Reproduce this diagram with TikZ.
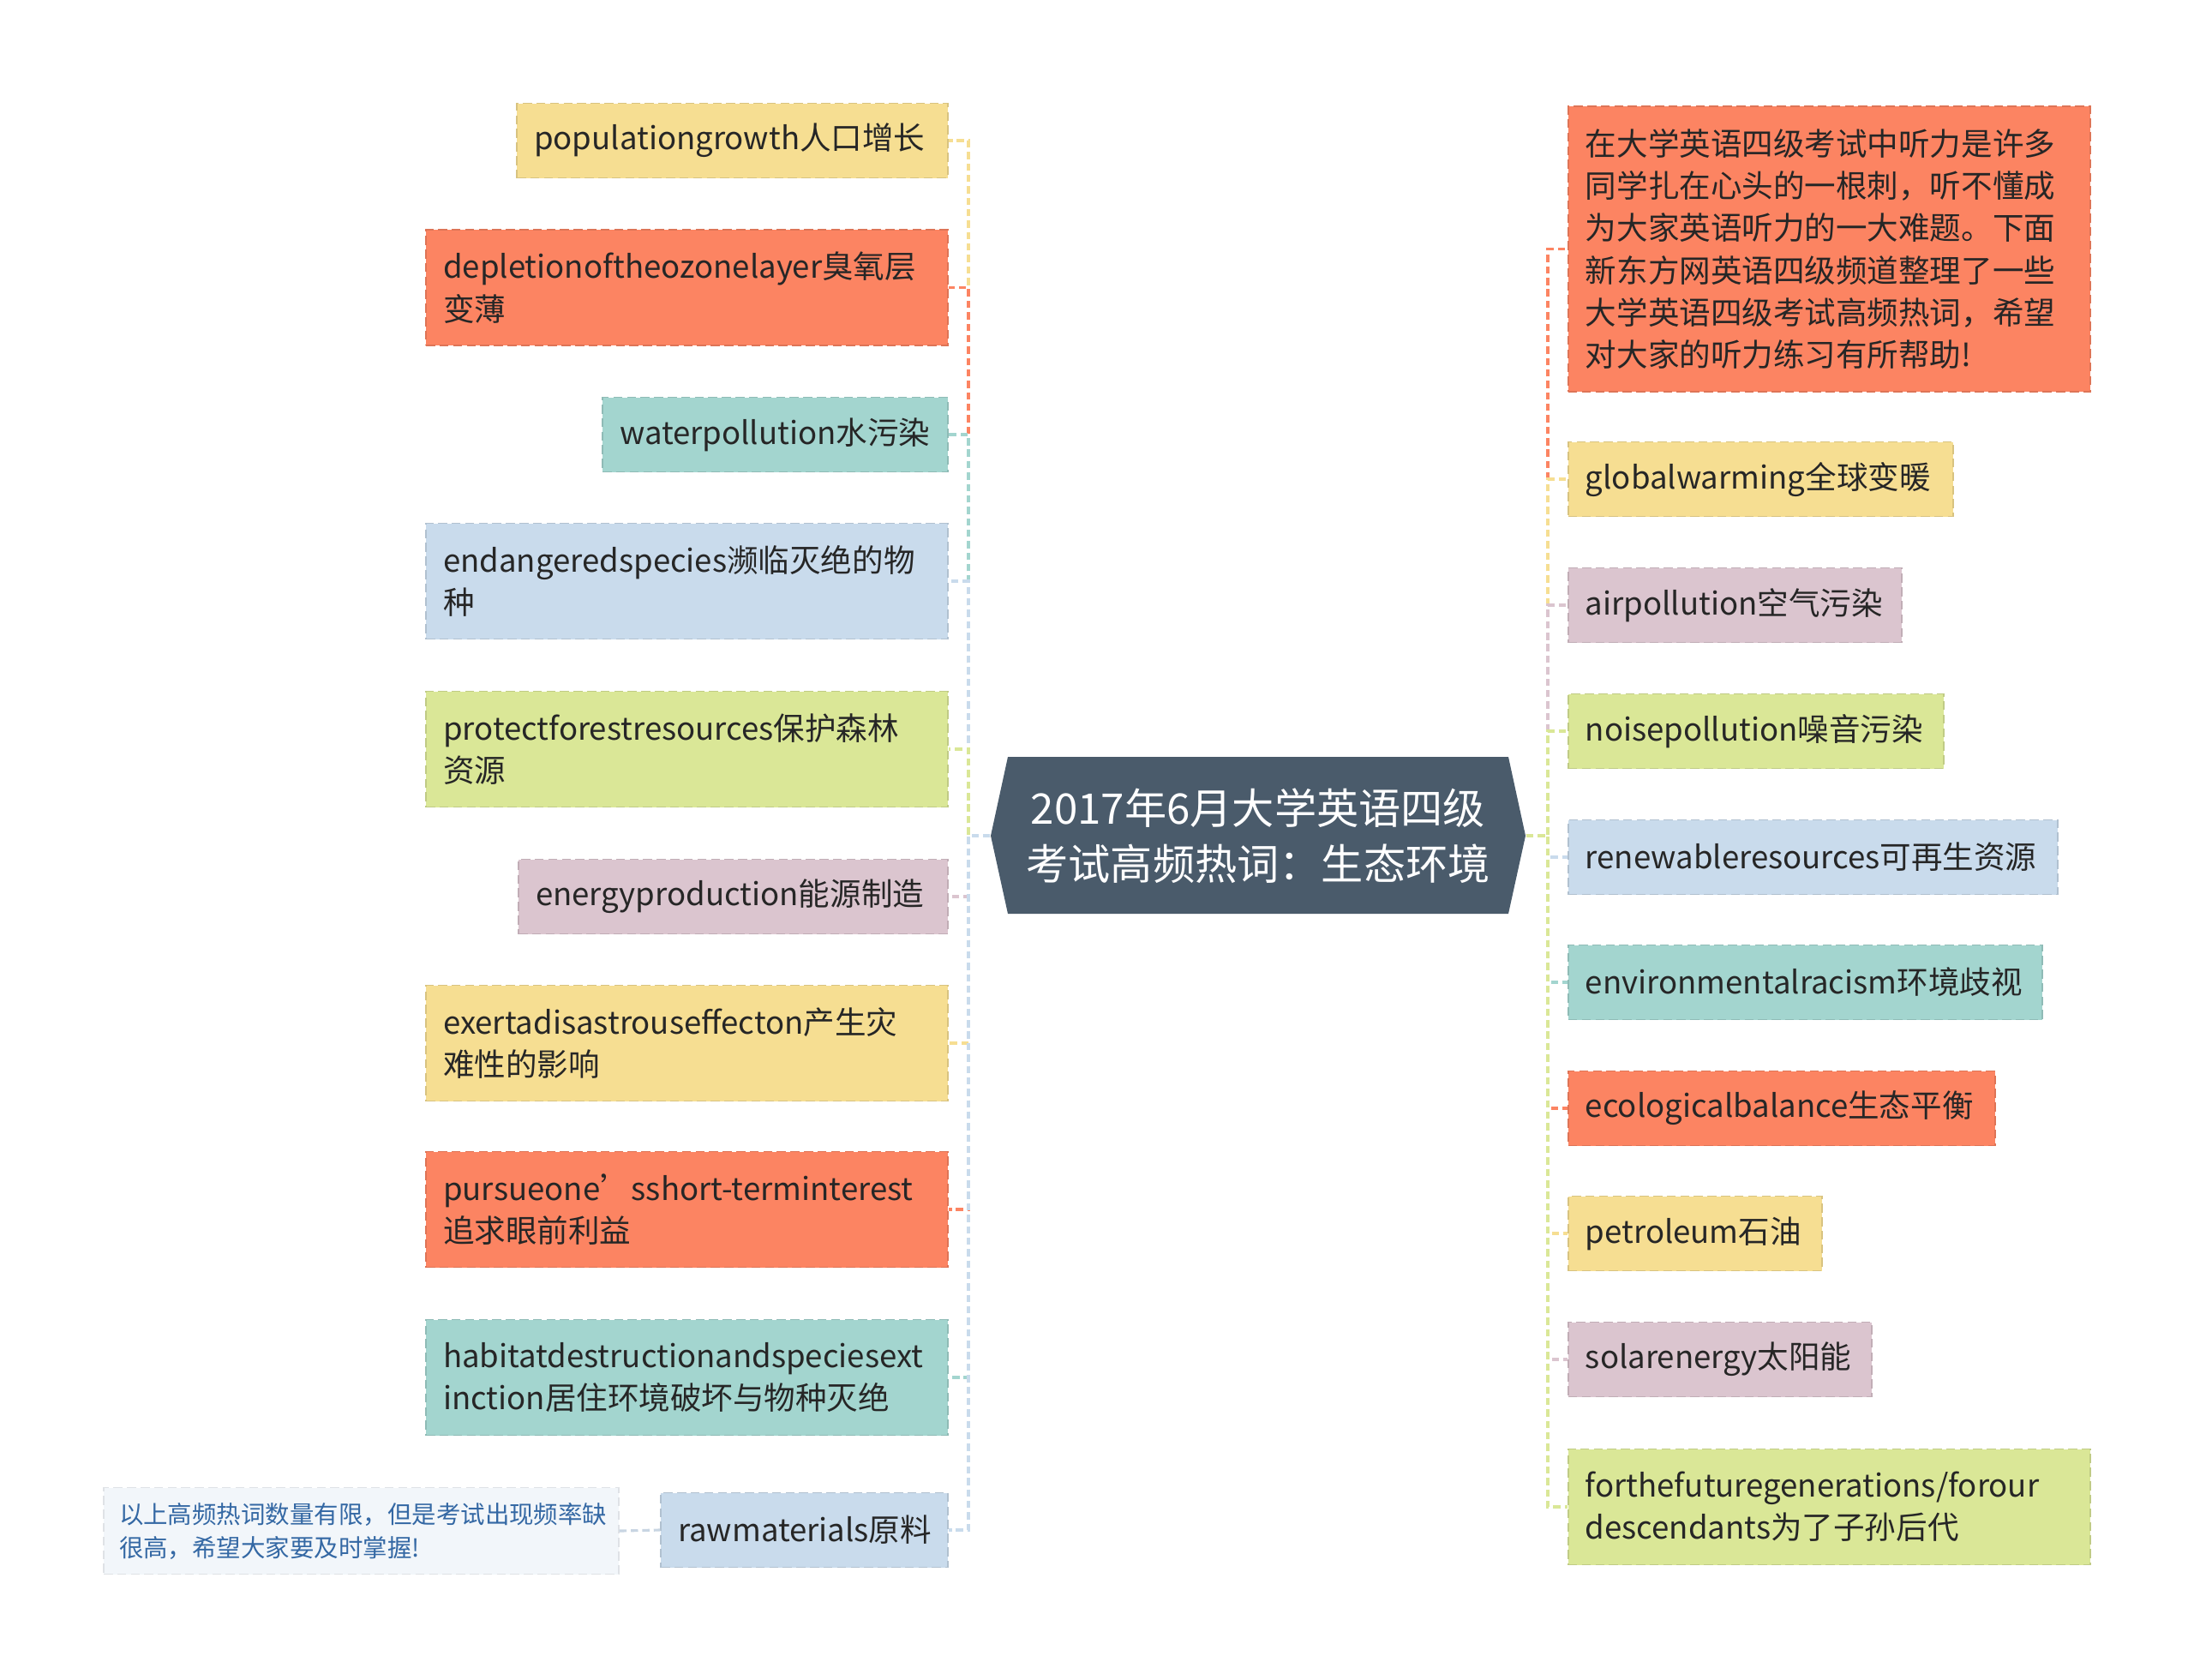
\documentclass[tikz,border=0pt]{standalone}
\usepackage{fontspec}
\newfontfamily\cjk{Noto Sans CJK SC}
\definecolor{cyel}{HTML}{F6DE92}
\definecolor{cred}{HTML}{FC8462}
\definecolor{cteal}{HTML}{A3D5CF}
\definecolor{cblue}{HTML}{C9DBEC}
\definecolor{cgreen}{HTML}{DAE797}
\definecolor{cmauve}{HTML}{DBC5CF}
\definecolor{croot}{HTML}{4A5B6B}
\definecolor{cnote}{HTML}{F2F6FA}
\definecolor{cnotetext}{HTML}{3468A4}
\definecolor{cline}{HTML}{C8D5E2}
\begin{document}
\begin{tikzpicture}
        [x=1cm,y=1cm,
         leaf/.style={rectangle, fill=#1, draw=#1!88!black, dash pattern=on 3pt off 1.5pt,
           line width=0.5pt, inner xsep=0.2cm, inner ysep=0pt, minimum height=0.87cm,
           align=left, text=black!85, font=\cjk\fontsize{10.4pt}{14pt}\selectfont},
         conn/.style={draw=#1, line width=0.9pt, dash pattern=on 2.4pt off 1.4pt}]
        \useasboundingbox (0,0) rectangle (25.6,-19.59);

        \fill[croot] (11.76,-8.83) -- (17.60,-8.83) -- (17.80,-9.75) -- (17.60,-10.66)
          -- (11.76,-10.66) -- (11.56,-9.75) -- cycle;
        \node[minimum width=6.24cm, minimum height=1.83cm, inner sep=0pt, align=center,
          text=white, font=\cjk\fontsize{14pt}{18.5pt}\selectfont] (root) at (14.68,-9.75)
          {2017年6月大学英语四级\\考试高频热词：生态环境};

        \coordinate (lt) at (11.30,-9.75);
        \coordinate (rt) at (18.06,-9.75);

        \node[leaf=cyel, anchor=east, text width=4.63cm] (pop) at (11.07,-1.64) {populationgrowth人口增长};
        \node[leaf=cred, anchor=east, text width=5.69cm, minimum height=1.35cm] (ozone) at (11.07,-3.355) {depletionoftheozonelayer臭氧层\\变薄};
        \node[leaf=cteal, anchor=east, text width=3.63cm] (water) at (11.07,-5.07) {waterpollution水污染};
        \node[leaf=cblue, anchor=east, text width=5.69cm, minimum height=1.35cm] (species) at (11.07,-6.78) {endangeredspecies濒临灭绝的物\\种};
        \node[leaf=cgreen, anchor=east, text width=5.69cm, minimum height=1.35cm] (forest) at (11.07,-8.74) {protectforestresources保护森林\\资源};
        \node[leaf=cmauve, anchor=east, text width=4.61cm] (energy) at (11.07,-10.46) {energyproduction能源制造};
        \node[leaf=cyel, anchor=east, text width=5.69cm, minimum height=1.35cm] (disaster) at (11.07,-12.17) {exertadisastrouseffecton产生灾\\难性的影响};
        \node[leaf=cred, anchor=east, text width=5.69cm, minimum height=1.35cm] (interest) at (11.07,-14.11) {pursueone’sshort-terminterest\\追求眼前利益};
        \node[leaf=cteal, anchor=east, text width=5.69cm, minimum height=1.35cm] (habitat) at (11.07,-16.07) {habitatdestructionandspeciesext\\inction居住环境破坏与物种灭绝};
        \node[leaf=cblue, anchor=east, text width=2.95cm] (raw) at (11.07,-17.85) {rawmaterials原料};

        \node[fill=cnote, draw=cnote!92!black, dash pattern=on 3pt off 1.5pt, line width=0.4pt,
          minimum width=6.01cm, minimum height=1.01cm, inner xsep=0.18cm, inner ysep=0pt,
          text width=5.65cm, align=left, text=cnotetext,
          font=\cjk\fontsize{8.1pt}{11.1pt}\selectfont] (tip) at (4.215,-17.86)
          {以上高频热词数量有限，但是考试出现频率缺\\很高，希望大家要及时掌握!};

        \node[leaf=cred, anchor=west, text width=5.69cm, minimum height=3.33cm] (intro) at (18.29,-2.906)
          {在大学英语四级考试中听力是许多\\同学扎在心头的一根刺，听不懂成\\为大家英语听力的一大难题。下面\\新东方网英语四级频道整理了一些\\大学英语四级考试高频热词，希望\\对大家的听力练习有所帮助!};
        \node[leaf=cyel, anchor=west, text width=4.09cm] (warming) at (18.29,-5.59) {globalwarming全球变暖};
        \node[leaf=cmauve, anchor=west, text width=3.49cm] (air) at (18.29,-7.06) {airpollution空气污染};
        \node[leaf=cgreen, anchor=west, text width=3.98cm] (noise) at (18.29,-8.53) {noisepollution噪音污染};
        \node[leaf=cblue, anchor=west, text width=5.31cm] (renew) at (18.29,-10.00) {renewableresources可再生资源};
        \node[leaf=cteal, anchor=west, text width=5.13cm] (racism) at (18.29,-11.46) {environmentalracism环境歧视};
        \node[leaf=cred, anchor=west, text width=4.58cm] (balance) at (18.29,-12.93) {ecologicalbalance生态平衡};
        \node[leaf=cyel, anchor=west, text width=2.56cm] (oil) at (18.29,-14.39) {petroleum石油};
        \node[leaf=cmauve, anchor=west, text width=3.14cm] (solar) at (18.29,-15.86) {solarenergy太阳能};
        \node[leaf=cgreen, anchor=west, text width=5.69cm, minimum height=1.35cm] (future) at (18.29,-17.58) {forthefuturegenerations/forour\\descendants为了子孙后代};

        \foreach \n/\c in {pop/cyel, ozone/cred, water/cteal, species/cblue, forest/cgreen,
          energy/cmauve, disaster/cyel, interest/cred, habitat/cteal, raw/cblue}
        {\draw[conn=\c] (root.west) -- (lt) |- (\n.east);}

        \foreach \n/\c in {intro/cred, warming/cyel, air/cmauve, noise/cgreen, renew/cblue,
          racism/cteal, balance/cred, oil/cyel, solar/cmauve, future/cgreen}
        {\draw[conn=\c] (root.east) -- (rt) |- (\n.west);}

        \draw[conn=cline] (tip.east) -- (raw.west);
      \end{tikzpicture}
\end{document}
